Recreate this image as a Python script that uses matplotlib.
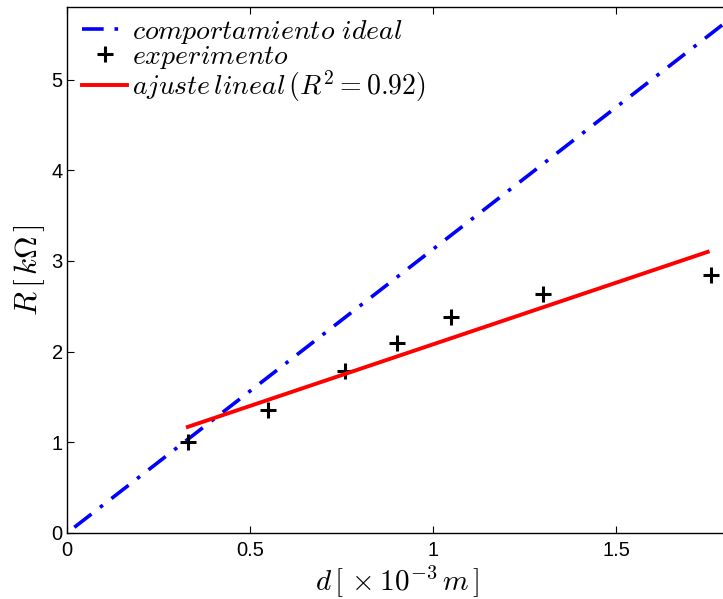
import matplotlib
matplotlib.use("Agg")
import matplotlib.pyplot as plt
import numpy as np

plt.rcParams['mathtext.fontset'] = 'cm'
plt.rcParams['font.family'] = ['Liberation Sans', 'DejaVu Sans']

# ideal behaviour line
ideal_x = [0.02, 1.8]
ideal_slope = 3.13
# experimental points
exp_x = [0.33, 0.55, 0.76, 0.90, 1.05, 1.30, 1.76]
exp_y = [1.00, 1.36, 1.79, 2.09, 2.38, 2.63, 2.85]
# linear fit line endpoints
fit_x = [0.33, 1.75]
fit_y = [1.17, 3.10]

xticks = [0, 0.5, 1, 1.5]
xticklabels = ['0', '0.5', '1', '1.5']
yticks = [0, 1, 2, 3, 4, 5]
yticklabels = ['0', '1', '2', '3', '4', '5']

fig = plt.figure(figsize=(7.23, 5.99), dpi=100)
ax = fig.add_axes([67/723, 66/599, (726-67)/723, (533-7)/599])

ax.plot(ideal_x, [ideal_slope*v for v in ideal_x], color='blue', linestyle='-.', lw=2.6,
        dashes=(6, 3, 1, 3), label=r'$comportamiento\ ideal$')
ax.plot(exp_x, exp_y, linestyle='none', marker='+', color='black', ms=12, mew=2.2,
        label=r'$experimento$')
ax.plot(fit_x, fit_y, color='red', lw=2.8, label=r'$ajuste\,lineal\,(R^2=0.92)$')

ax.set_xlim(0, 1.8)
ax.set_ylim(0, 5.8)
ax.set_xticks(xticks)
ax.set_xticklabels(xticklabels)
ax.set_yticks(yticks)
ax.set_yticklabels(yticklabels)
ax.tick_params(direction='in', length=5, width=0.8, labelsize=14.5, top=True, right=False)
ax.tick_params(axis='x', pad=6)
ax.tick_params(axis='y', pad=3)
for s in ax.spines.values():
    s.set_linewidth(1.0)

ax.set_xlabel(r'$d\,[\,\times10^{-3}\,m\,]$', fontsize=21, labelpad=2)
ax.set_ylabel(r'$R\,[\,k\Omega\,]$', fontsize=22.5, labelpad=3)

ax.legend(loc='upper left', bbox_to_anchor=(0, 1 + 4/526), frameon=False, fontsize=20,
          handlelength=1.62, handletextpad=0.18, labelspacing=-0.08,
          borderaxespad=0.3, borderpad=0.24)

fig.savefig('out.png', dpi=100)
